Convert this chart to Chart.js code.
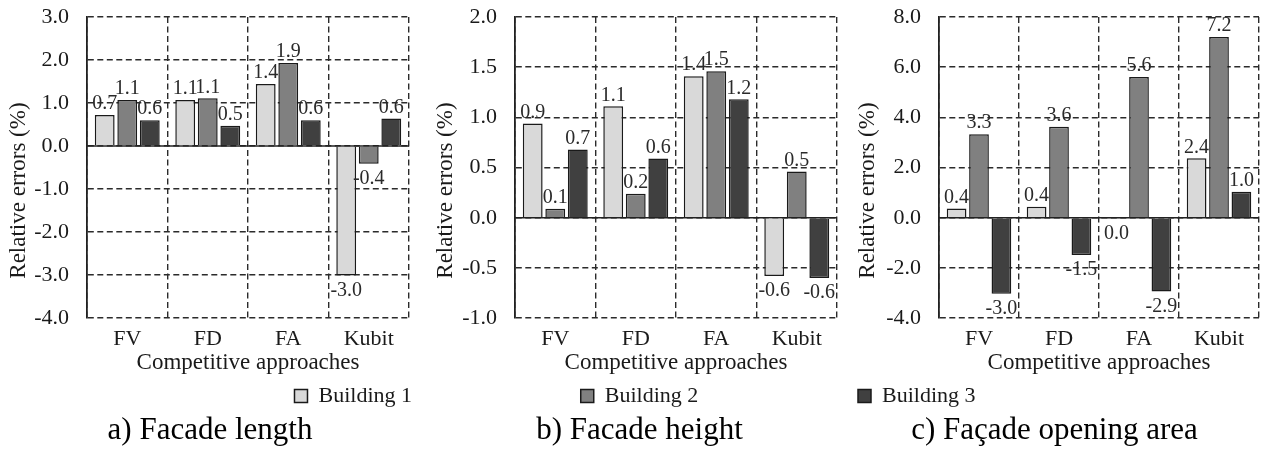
<!DOCTYPE html>
<html>
<head>
<meta charset="utf-8">
<script src="https://cdn.jsdelivr.net/npm/chart.js@4.4.1/dist/chart.umd.min.js"></script>
<style>
  html, body { margin: 0; padding: 0; background: #fff; }
  #wrap { position: relative; width: 1261px; height: 450px; overflow: hidden; }
  canvas { position: absolute; top: 0; }
</style>
</head>
<body>
<div id="wrap">
  <canvas id="chartA" width="420" height="450" style="left:0px"></canvas>
  <canvas id="chartB" width="420" height="450" style="left:420px"></canvas>
  <canvas id="chartC" width="421" height="450" style="left:840px"></canvas>
</div>
<script>
// categories and series
const categories = ['FV', 'FD', 'FA', 'Kubit'];
const seriesNames = ['Building 1', 'Building 2', 'Building 3'];

// a) facade length
const lengthB1 = [0.72, 1.07, 1.44, -3.01];
const lengthB2 = [1.07, 1.11, 1.93, -0.41];
const lengthB3 = [0.60, 0.47, 0.60, 0.64];
const lengthTicks = [-4, -3, -2, -1, 0, 1, 2, 3];

// b) facade height
const heightB1 = [0.94, 1.11, 1.41, -0.58];
const heightB2 = [0.09, 0.24, 1.46, 0.46];
const heightB3 = [0.68, 0.59, 1.18, -0.60];
const heightTicks = [-1, -0.5, 0, 0.5, 1, 1.5, 2];

// c) facade opening area
const openingB1 = [0.37, 0.44, -0.04, 2.37];
const openingB2 = [3.33, 3.63, 5.61, 7.20];
const openingB3 = [-3.03, -1.49, -2.94, 1.04];
const openingTicks = [-4, -2, 0, 2, 4, 6, 8];

const captions = ['a) Facade length', 'b) Facade height', 'c) Fa\u00e7ade opening area'];

const barColors = ['#d9d9d9', '#808080', '#404040'];
const family = '"Liberation Serif", "Times New Roman", serif';
const textColor = '#1a1a1a';
const gridColor = '#2b2b2b';
// trailing spaces push the rotated title down a little, like the original
const yTitle = 'Relative errors (%)' + '\u00a0'.repeat(8);

const fmt = v => (Math.round(v * 10) / 10).toFixed(1);

// value labels above / below each bar
const barLabels = {
  id: 'barLabels',
  afterDatasetsDraw(chart) {
    const ctx = chart.ctx;
    ctx.save();
    ctx.font = '20px ' + family;
    ctx.fillStyle = '#2a2a2a';
    ctx.textAlign = 'center';
    chart.data.datasets.forEach((ds, i) => {
      chart.getDatasetMeta(i).data.forEach((bar, j) => {
        const v = ds.data[j];
        if (v >= 0) {
          ctx.textBaseline = 'bottom';
          ctx.fillText(fmt(v), bar.x, bar.y - 1);
        } else {
          ctx.textBaseline = 'top';
          ctx.fillText(fmt(v), bar.x, bar.y + 5);
        }
      });
    });
    ctx.restore();
  }
};

// solid line at zero
const zeroLine = {
  id: 'zeroLine',
  beforeDatasetsDraw(chart) {
    const ctx = chart.ctx;
    const area = chart.chartArea;
    const y = chart.scales.y.getPixelForValue(0);
    ctx.save();
    ctx.strokeStyle = '#222';
    ctx.lineWidth = 1.6;
    ctx.beginPath();
    ctx.moveTo(area.left, y);
    ctx.lineTo(area.right, y);
    ctx.stroke();
    ctx.restore();
  }
};

function makePanel(id, values, ticks, caption, legendIndex, legendAlign, box) {
  const datasets = values.map((vals, i) => ({
    label: seriesNames[i],
    data: vals,
    backgroundColor: barColors[i],
    borderColor: '#1a1a1a',
    borderWidth: 1.5,
    categoryPercentage: 0.84,
    barPercentage: 0.88
  }));

  const scales = {
    x: {
      afterFit: s => { s.height = 59; },
      grid: { color: gridColor, lineWidth: 1.4, drawTicks: false, offset: true },
      border: { display: false, dash: [6, 3.5] },
      ticks: { color: textColor, font: { family: family, size: 22 }, padding: 8 },
      title: {
        display: true,
        text: 'Competitive approaches',
        color: textColor,
        font: { family: family, size: 23 },
        padding: { top: 0, bottom: 0 }
      }
    },
    y: {
      min: ticks[0],
      max: ticks[ticks.length - 1],
      afterBuildTicks: s => { s.ticks = ticks.map(v => ({ value: v })); },
      afterFit: s => { s.width = box.yWidth; s.paddingTop = 0; s.paddingBottom = 0; },
      grid: { color: gridColor, lineWidth: 1.4, drawTicks: false },
      border: { display: true, color: '#222', width: 1.8, dash: [6, 3.5] },
      ticks: {
        color: textColor,
        font: { family: family, size: 22 },
        padding: 18,
        callback: v => Number(v).toFixed(1)
      },
      title: {
        display: true,
        text: yTitle,
        color: textColor,
        font: { family: family, size: 23 },
        padding: { top: box.titlePad, bottom: 0 }
      }
    }
  };
  // empty strip on the right so the legend can reach past the plot edge
  if (box.rightStrip) {
    scales.strip = {
      type: 'linear',
      position: 'right',
      afterFit: s => { s.width = box.rightStrip; s.paddingTop = 0; s.paddingBottom = 0; },
      grid: { drawOnChartArea: false, drawTicks: false },
      border: { display: false },
      ticks: { display: false }
    };
  }

  return new Chart(document.getElementById(id), {
    type: 'bar',
    data: { labels: categories, datasets: datasets },
    options: {
      responsive: false,
      animation: false,
      layout: { padding: { top: 17, left: box.padLeft, right: box.padRight, bottom: 5 } },
      scales: scales,
      plugins: {
        legend: {
          position: 'bottom',
          align: legendAlign,
          labels: {
            filter: item => item.datasetIndex === legendIndex,
            color: textColor,
            font: { family: family, size: 22 },
            boxWidth: 13,
            boxHeight: 13,
            padding: 8
          }
        },
        title: {
          display: true,
          position: 'bottom',
          text: caption,
          color: '#000',
          font: { family: family, size: 31, weight: 'normal', lineHeight: 0.9 },
          padding: 0
        },
        tooltip: { enabled: false }
      }
    },
    plugins: [zeroLine, barLabels]
  });
}

makePanel('chartA', [lengthB1, lengthB2, lengthB3], lengthTicks, captions[0], 0, 'end',
  { padLeft: 0, yWidth: 87, padRight: 0, rightStrip: 11, titlePad: 5 });
makePanel('chartB', [heightB1, heightB2, heightB3], heightTicks, captions[1], 1, 'center',
  { padLeft: 19, yWidth: 76, padRight: 0, rightStrip: 3, titlePad: -7 });
makePanel('chartC', [openingB1, openingB2, openingB3], openingTicks, captions[2], 2, 'start',
  { padLeft: 10, yWidth: 89, padRight: 2, rightStrip: 0, titlePad: 4 });
</script>
</body>
</html>
